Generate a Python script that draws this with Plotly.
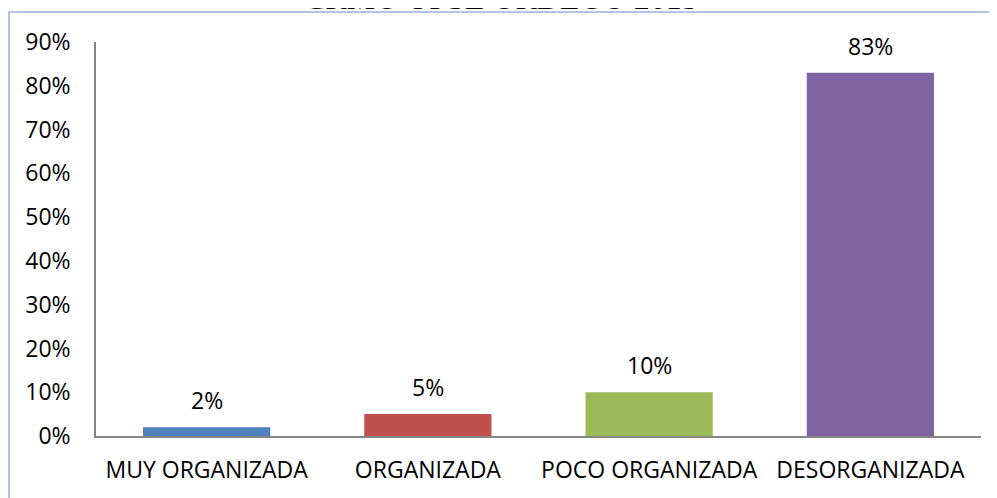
import plotly.graph_objects as go

PALETTE = [
    '#4f81bd', '#c0504d', '#9bbb59', '#8064a2'
]


def _layout_office():
    return dict(
        plot_bgcolor='white',
        paper_bgcolor='white',
        font=dict(family='Open Sans, sans-serif', color='#000000', size=23),
        margin=dict(l=88, r=16, t=34, b=62),
        width=989,
        height=490,
        showlegend=False,
        bargap=0.425,
        xaxis=dict(showgrid=False, showline=True, linecolor='#868686', linewidth=1.5,
                   ticks='', ticklabelstandoff=13),
        yaxis=dict(showgrid=False, showline=True, linecolor='#868686', linewidth=1.5,
                   ticks='', range=[0, 0.9], dtick=0.1, tickformat='.0%',
                   zeroline=False, ticklabelstandoff=19)
    )


def build_chart(labels, values):

    fig = go.Figure(
        go.Bar(
            x=labels,
            y=values,
            marker=dict(color=PALETTE[:len(values)], line=dict(width=0)),
            hovertemplate='%{x}<br>%{y:.0%}<extra></extra>'
        )
    )

    # etiquetas de datos encima de cada barra
    for lab, val in zip(labels, values):
        fig.add_annotation(x=lab, y=val, text=f'{val:.0%}', showarrow=False,
                           yanchor='middle', yshift=27, font=dict(size=23))

    fig.update_layout(**_layout_office())

    # marco del grafico (recortado en el documento)
    fig.add_shape(type='rect', xref='paper', yref='paper',
                  x0=-0.0983, x1=1.1, y0=-0.3, y1=1.0761,
                  line=dict(color='#95b3d7', width=1.5), layer='below')

    # titulo cortado en la parte superior
    fig.add_annotation(xref='paper', yref='paper', x=0.4576, y=1.111,
                       text='CRMO UPSE ORDEGO 2013', showarrow=False,
                       yanchor='middle',
                       font=dict(family='Liberation Serif, serif', size=32, color='#000000'))

    return fig


categorias = ['MUY ORGANIZADA', 'ORGANIZADA', 'POCO ORGANIZADA', 'DESORGANIZADA']
porcentajes = [0.02, 0.05, 0.10, 0.83]

fig = build_chart(categorias, porcentajes)
fig.write_html("out.html")
